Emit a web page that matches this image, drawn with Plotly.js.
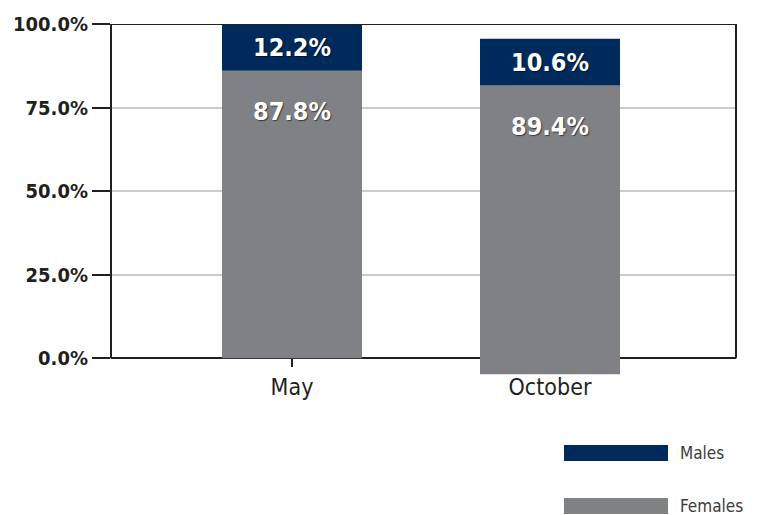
<!DOCTYPE html>
<html>
<head>
<meta charset="utf-8">
<script src="https://cdn.plot.ly/plotly-3.0.1.min.js"></script>
<style>html,body{margin:0;padding:0;background:#fff;}#chart{width:758px;height:515px;}</style>
</head>
<body>
<div id="chart"></div>
<script>
// ---- data ----
const categories = ['May', 'October'];
const barBase = [0, -4.8];            // where each bar starts (as drawn)
const femaleValues = [86.0, 86.4];    // drawn heights of the grey segments
const maleValues = [14.0, 14.0];      // drawn heights of the navy segments
const femaleLabels = ['87.8%', '89.4%'];
const maleLabels = ['12.2%', '10.6%'];
const yTickVals = [0, 25, 50, 75, 100];
const yTickLabels = ['0.0%', '25.0%', '50.0%', '75.0%', '100.0%'];
const seriesNames = ['Males', 'Females'];

// ---- style ----
const FONT = 'DejaVu Sans Condensed, DejaVu Sans, sans-serif';
const NAVY = '#002a5c';
const GREY = '#808185';
const INK = '#231f20';

const maleBase = barBase.map((b, i) => b + femaleValues[i]);

const traces = [
  {
    type: 'bar', name: seriesNames[1], x: categories, y: femaleValues, base: barBase,
    width: 0.5426, marker: {color: GREY, line: {width: 0}}, hoverinfo: 'skip'
  },
  {
    type: 'bar', name: seriesNames[0], x: categories, y: maleValues, base: maleBase,
    width: 0.5426, marker: {color: NAVY, line: {width: 0}}, hoverinfo: 'skip'
  }
];

const labelFont = {family: FONT, size: 25, color: '#ffffff', weight: 'bold', shadow: '1px 1px 1px rgba(0,0,0,0.55)'};
const annotations = [];
categories.forEach((c, i) => {
  annotations.push({
    x: c, y: maleBase[i] + maleValues[i] / 2, xref: 'x', yref: 'y',
    text: maleLabels[i], showarrow: false, xanchor: 'center', yanchor: 'middle',
    font: labelFont
  });
  annotations.push({
    x: c, y: maleBase[i], xref: 'x', yref: 'y',
    text: femaleLabels[i], showarrow: false, xanchor: 'center', yanchor: 'middle',
    yshift: -41, font: labelFont
  });
});

// custom legend (wide swatches) in pixel terms converted to paper coords
const W = 758, H = 515, M = {l: 111, r: 22, t: 24, b: 140};
const pw = W - M.l - M.r, ph = H - M.t - M.b;
const px = x => (x - M.l) / pw;
const py = y => (H - M.b - y) / ph;
const legendItems = [
  {name: seriesNames[0], color: NAVY, top: 445, bottom: 461},
  {name: seriesNames[1], color: GREY, top: 498, bottom: 514}
];
const shapes = [];
legendItems.forEach(it => {
  shapes.push({type: 'rect', xref: 'paper', yref: 'paper', x0: px(564), x1: px(668),
    y0: py(it.bottom), y1: py(it.top), fillcolor: it.color, line: {width: 0}});
  annotations.push({xref: 'paper', yref: 'paper', x: px(678), y: py((it.top + it.bottom) / 2),
    xanchor: 'left', yanchor: 'middle', showarrow: false, text: it.name,
    font: {family: FONT, size: 17, color: '#3c3c3c'}});
});
// frame (top, left, right) of the 0–100 box
shapes.push({type: 'line', xref: 'paper', yref: 'y', x0: 0, x1: 1, y0: 100, y1: 100, line: {color: INK, width: 2}});
shapes.push({type: 'line', xref: 'paper', yref: 'y', x0: 0, x1: 0, y0: 0, y1: 100, line: {color: INK, width: 2}});
shapes.push({type: 'line', xref: 'paper', yref: 'y', x0: 1, x1: 1, y0: 0, y1: 100, line: {color: INK, width: 2}});

const layout = {
  width: W, height: H, autosize: false,
  margin: M,
  paper_bgcolor: '#ffffff', plot_bgcolor: '#ffffff',
  barmode: 'overlay', showlegend: false,
  xaxis: {
    type: 'category', range: [-0.7016, 1.721],
    anchor: 'free', position: 5 / 105,
    showline: true, linecolor: INK, linewidth: 2,
    ticks: 'outside', ticklen: 8, tickwidth: 2, tickcolor: INK,
    showgrid: false, zeroline: false, layer: 'below traces',
    tickfont: {family: FONT, size: 23, color: INK}
  },
  yaxis: {
    range: [-5, 100], tickmode: 'array', tickvals: yTickVals, ticktext: yTickLabels,
    showline: false, zeroline: false,
    showgrid: true, gridcolor: '#cccccc', gridwidth: 2,
    ticks: 'outside', ticklen: 18, tickwidth: 2, tickcolor: INK,
    tickfont: {family: FONT, size: 20, color: INK, weight: 'bold'}
  },
  shapes: shapes,
  annotations: annotations
};

Plotly.newPlot('chart', traces, layout, {staticPlot: true, displayModeBar: false});
</script>
</body>
</html>
